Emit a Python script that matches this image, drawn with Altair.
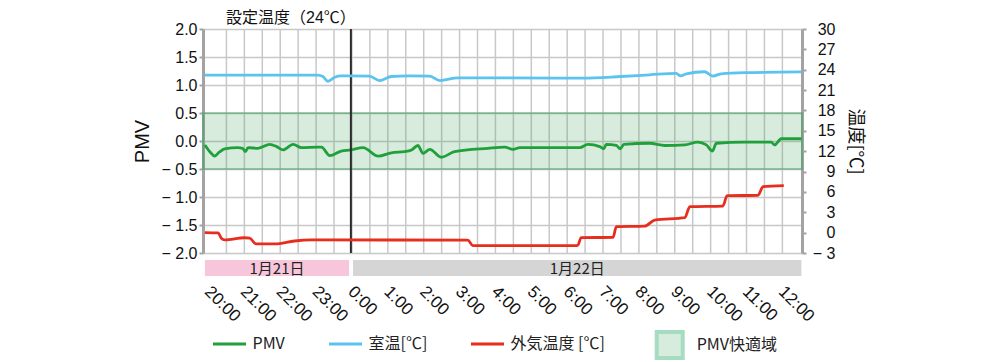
import altair as alt
import pandas as pd

# ---------------- data (hours after 20:00 on 1/21; 4 = 0:00, 16 = 12:00) ----------------
pmv_h = [-0.1, 0.05, 0.17, 0.3, 0.45, 0.82, 0.95, 1.03, 1.1, 1.38, 1.71, 1.9, 2.08, 2.36, 2.59,
         3.05, 3.15, 3.38, 3.7, 3.96, 4.31, 4.73, 5.1, 5.47, 5.66, 5.84, 5.98, 6.17, 6.49, 6.86,
         7.79, 8.26, 8.49, 8.68, 10.35, 10.58, 10.91, 11.02, 11.09, 11.37, 11.48, 11.58, 12.3,
         12.72, 13.28, 13.64, 13.88, 14.05, 14.16, 14.95, 15.69, 15.78, 15.97, 16.53]
pmv_v = [-0.07, -0.2, -0.27, -0.2, -0.14, -0.12, -0.13, -0.19, -0.12, -0.13, -0.06, -0.1, -0.16, -0.06, -0.12,
         -0.11, -0.11, -0.26, -0.18, -0.16, -0.12, -0.27, -0.21, -0.19, -0.16, -0.08, -0.22, -0.15, -0.29, -0.19,
         -0.13, -0.11, -0.15, -0.12, -0.12, -0.06, -0.10, -0.14, -0.06, -0.08, -0.14, -0.06, -0.04,
         -0.08, -0.07, -0.02, -0.07, -0.18, -0.04, -0.02, -0.02, -0.07, 0.04, 0.04]

room_h = [-0.1, 3.05, 3.19, 3.33, 3.52, 3.7, 3.96, 4.49, 4.77, 5.1, 5.6, 6.17, 6.45, 6.95, 8.26,
          10.44, 11.5, 12.3, 13.04, 13.16, 13.32, 13.83, 14.06, 14.3, 14.95, 16.53]
room_t = [23.2, 23.2, 23.0, 22.3, 22.9, 23.1, 23.1, 23.05, 22.4, 23.0, 23.1, 23.05, 22.4, 22.8, 22.8,
          22.75, 23.0, 23.25, 23.47, 23.1, 23.4, 23.7, 23.07, 23.4, 23.57, 23.67]

out_h = [-0.1, 0.27, 0.36, 0.45, 1.0, 1.15, 1.3, 1.38, 1.85, 2.4, 2.87, 7.23, 7.37, 10.26, 10.3,
         10.39, 11.28, 11.37, 12.16, 12.44, 13.28, 13.42, 14.34, 14.46, 15.32, 15.46, 16.04]
out_t = [0.0, -0.05, -0.84, -1.08, -0.75, -0.8, -1.6, -1.67, -1.67, -1.23, -1.08, -1.1, -1.92, -1.92, -1.85,
         -0.74, -0.69, 0.88, 0.95, 1.86, 2.2, 3.82, 3.92, 5.44, 5.5, 6.77, 6.92]

hour_labels = ["20:00", "21:00", "22:00", "23:00", "0:00", "1:00", "2:00", "3:00", "4:00",
               "5:00", "6:00", "7:00", "8:00", "9:00", "10:00", "11:00", "12:00"]
grid_h = [0.5 * i for i in range(1, 33)]          # half-hour grid lines
days = ["1月21日", "1月22日"]
day_start = [-0.1, 4.03]
day_end = [3.92, 16.53]
set_h = [3.97]
set_label = ["設定温度（24℃）"]
comfort_lo = [-0.5]
comfort_hi = [0.5]
comfort_name = ["PMV快適域"]
series = ["PMV", "室温[℃]", "外気温度 [℃]"]
series_colors = ["#1fa03a", "#5ac3f0", "#e72d1d"]

# ---------------- frames ----------------
pmv_df = pd.DataFrame({"h": pmv_h, "v": pmv_v, "series": series[0]})
temp_df = pd.concat([
    pd.DataFrame({"h": room_h, "t": room_t, "series": series[1]}),
    pd.DataFrame({"h": out_h, "t": out_t, "series": series[2]}),
])
grid_df = pd.DataFrame({"h": grid_h})
day_df = pd.DataFrame({"day": days, "start": day_start, "end": day_end})
set_df = pd.DataFrame({"h": set_h, "label": set_label})
band_df = pd.DataFrame({"lo": comfort_lo, "hi": comfort_hi, "name": comfort_name})

W, H = 599, 224
X_DOMAIN = [-0.153, 16.547]
LATIN = "Liberation Sans"
CJK = "Noto Sans CJK JP"
AXIS_GRAY = "#a3a3a3"

xs = alt.Scale(domain=X_DOMAIN, nice=False, zero=False)
label_expr = "[" + ",".join("'%s'" % s for s in hour_labels) + "][datum.value]"
x_axis = alt.Axis(values=list(range(len(hour_labels))), labelExpr=label_expr, labelAngle=45,
                  labelAlign="left", labelBaseline="top", labelPadding=30, labelOffset=4,
                  ticks=False, tickSize=0, domain=False, grid=False, labelFontSize=17,
                  labelFont=LATIN, labelColor="#111", title=None, labelOverlap=False,
                  labelBound=False, labelFlush=False)

ys_left = alt.Scale(domain=[-2, 2], nice=False, zero=False)
left_axis = alt.Axis(values=[-2, -1.5, -1, -0.5, 0, 0.5, 1, 1.5, 2],
                     labelExpr="datum.value < 0 ? '\u2212 ' + format(-datum.value, '.1f') : format(datum.value, '.1f')",
                     grid=True, gridColor="#c8c8c8", gridWidth=1.5,
                     domainColor=AXIS_GRAY, domainWidth=3, tickColor=AXIS_GRAY, tickWidth=2,
                     tickSize=4, labelPadding=2, labelFontSize=16, labelFont=LATIN,
                     labelColor="#111", title="PMV", titleFont=LATIN, titleFontSize=20,
                     titleFontWeight="normal", titleColor="#111", titlePadding=8)

ys_right = alt.Scale(domain=[-3, 30], nice=False, zero=False)
right_axis = alt.Axis(orient="right", values=[-3, 0, 3, 6, 9, 12, 15, 18, 21, 24, 27, 30],
                      labelExpr="datum.value < 0 ? '\u2212 ' + format(-datum.value, 'd') : format(datum.value, 'd')",
                      grid=False, domainColor=AXIS_GRAY, domainWidth=3, tickColor=AXIS_GRAY,
                      tickWidth=2, tickSize=4, labelAlign="right", labelPadding=29,
                      labelFontSize=16, labelFont=LATIN, labelColor="#111",
                      title="温度[℃]", titleFont=CJK, titleFontSize=18, titleFontWeight="normal",
                      titleColor="#111", titlePadding=10, titleAngle=90)

stroke_scale = alt.Scale(domain=series, range=series_colors)
line_legend = alt.Legend(orient="none", legendX=8.5, legendY=297, direction="horizontal",
                         title=None, symbolType="stroke", symbolSize=1089, symbolStrokeWidth=3,
                         labelFont=CJK, labelFontSize=16, labelOffset=5, columnPadding=37,
                         padding=0, labelColor="#222")
band_legend = alt.Legend(orient="none", legendX=451.7, legendY=301, title=None,
                         symbolType="square", symbolSize=676, symbolStrokeColor="#a6dcc1",
                         symbolStrokeWidth=4, labelOffset=12, labelFont=CJK, labelFontSize=16,
                         padding=0, labelColor="#222")

# ---------------- left-scale layers ----------------
vgrid = alt.Chart(grid_df).mark_rule(color="#c8c8c8", strokeWidth=1.5).encode(
    x=alt.X("h:Q", scale=xs, axis=x_axis), y=alt.value(0), y2=alt.value("height"))

band = alt.Chart(band_df).mark_rect(stroke="rgba(58,160,90,0.45)", strokeWidth=2).encode(
    x=alt.value(0), x2=alt.value("width"),
    y=alt.Y("lo:Q", scale=ys_left, axis=left_axis), y2="hi:Q",
    fill=alt.Fill("name:N", scale=alt.Scale(domain=comfort_name, range=["rgba(58,160,90,0.2)"]),
                  legend=band_legend))

pmv_line = alt.Chart(pmv_df).mark_line(strokeWidth=2.8, interpolate="monotone").encode(
    x=alt.X("h:Q", scale=xs, axis=x_axis),
    y=alt.Y("v:Q", scale=ys_left, axis=left_axis),
    stroke=alt.Stroke("series:N", scale=stroke_scale, legend=line_legend))

set_rule = alt.Chart(set_df).mark_rule(color="#2a2a2a", strokeWidth=2).encode(
    x=alt.X("h:Q", scale=xs, axis=x_axis), y=alt.value(0), y2=alt.value("height"))

set_text = alt.Chart(set_df).mark_text(align="right", baseline="middle",
                                       font="Liberation Sans, Noto Sans CJK JP", fontSize=16,
                                       color="#111", dx=5).encode(
    x=alt.X("h:Q", scale=xs, axis=x_axis), y=alt.value(-11.5), text="label:N")

day_rect = alt.Chart(day_df).mark_rect().encode(
    x=alt.X("start:Q", scale=xs, axis=x_axis), x2="end:Q",
    y=alt.value(231), y2=alt.value(247),
    color=alt.Color("day:N", scale=alt.Scale(domain=days, range=["#f7c6db", "#d5d5d5"]), legend=None))

day_text = alt.Chart(day_df).transform_calculate(mid="(datum.start + datum.end) / 2").mark_text(
    font=CJK, fontSize=15, color="#222", baseline="middle").encode(
    x=alt.X("mid:Q", scale=xs, axis=x_axis), y=alt.value(239.5), text="day:N")

left_layer = alt.layer(vgrid, band, day_rect, day_text, pmv_line, set_rule, set_text)

# ---------------- right-scale layer ----------------
temp_lines = alt.Chart(temp_df).mark_line(strokeWidth=2.8, interpolate="monotone").encode(
    x=alt.X("h:Q", scale=xs, axis=x_axis),
    y=alt.Y("t:Q", scale=ys_right, axis=right_axis),
    stroke=alt.Stroke("series:N", scale=stroke_scale, legend=line_legend),
    detail="series:N")

chart = alt.layer(left_layer, temp_lines).resolve_scale(y="independent").properties(
    width=W, height=H,
    autosize=alt.AutoSizeParams(type="none"),
    padding={"left": 195, "top": 21, "right": 190, "bottom": 109},
).configure_view(fill="#eeeeee", stroke="transparent").configure(background="white")

chart.save("out.html", embed_options={"renderer": "svg", "actions": False})
